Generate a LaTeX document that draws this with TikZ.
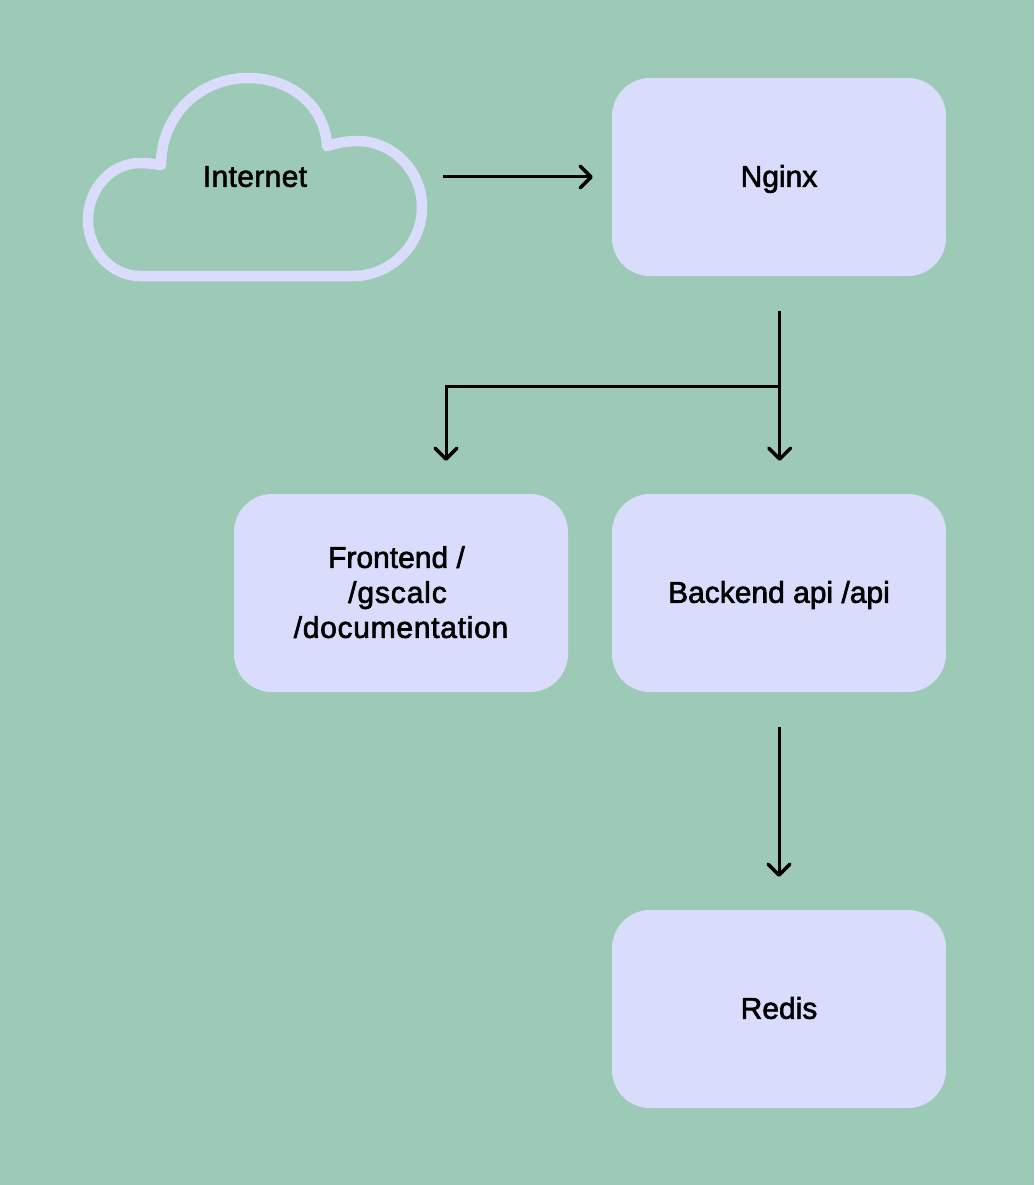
\documentclass[tikz,border=0pt]{standalone}
\usepackage{fontspec}
\setmainfont{Liberation Sans}[FakeBold=2]
\usetikzlibrary{arrows.meta}
\definecolor{bgc}{HTML}{9DCAB6}
\definecolor{boxc}{HTML}{D9DCFA}
\newcommand{\oneline}[1]{\rule{0pt}{19.5pt}\smash{#1}}
\newcommand{\spaced}[2]{{\addfontfeature{LetterSpace=#1}#2}}
\tikzset{
  box/.style={fill=boxc,rounded corners=38pt,minimum width=334pt,minimum height=198pt,inner sep=0pt,align=center,font=\fontsize{30}{35}\selectfont},
  flow/.style={line width=3pt,-{Straight Barb[round,length=11pt,width=22pt,line width=3.4pt]}},
  cloudline/.style={draw=boxc,line width=10.5pt,line cap=round,line join=round}
}
\begin{document}
\begin{tikzpicture}[x=1pt,y=-1pt]
\useasboundingbox (0,0) rectangle (1034,1185);
\fill[bgc] (0,0) rectangle (1034,1185);
\draw[cloudline] (161,165) .. controls (161,115) and (200,78) .. (248,78)
  .. controls (290,78) and (325,105) .. (327,146)
  .. controls (337,143) and (347,141) .. (357,141)
  .. controls (393,141) and (422,171) .. (422,207)
  .. controls (422,245) and (391,276) .. (353,276)
  -- (140,276)
  .. controls (111,276) and (88,250) .. (88,220)
  .. controls (88,189) and (111,163) .. (140,163)
  .. controls (147,163) and (154,164) .. (161,165);
\node[box,fill=none] (internet) at (255,177) {\oneline{\spaced{1.2}{Internet}}};
\node[box] (nginx) at (779,177) {\oneline{Nginx}};
\node[box] (frontend) at (401,593) {Frontend /\hspace*{9pt}\\\mbox{\spaced{2.9}{/gscalc}\kern 7pt}\\\spaced{2.4}{/documentation}\rule[-2pt]{0pt}{2pt}};
\node[box] (backend) at (779,593) {\oneline{Backend api /api}};
\node[box] (redis) at (779,1009) {\oneline{Redis}};
\draw[flow,shorten <=21pt,shorten >=19pt] (internet.east) -- (nginx.west);
\draw[flow,shorten <=35pt,shorten >=33pt] ([xshift=0.7pt]nginx.south) -- ([xshift=0.7pt]backend.north);
\coordinate (split) at (779.7,386);
\draw[flow,shorten >=33pt] (split) -| ([xshift=45pt]frontend.north);
\draw[flow,shorten <=35pt,shorten >=33pt] (backend.south) -- (redis.north);
\end{tikzpicture}
\end{document}
